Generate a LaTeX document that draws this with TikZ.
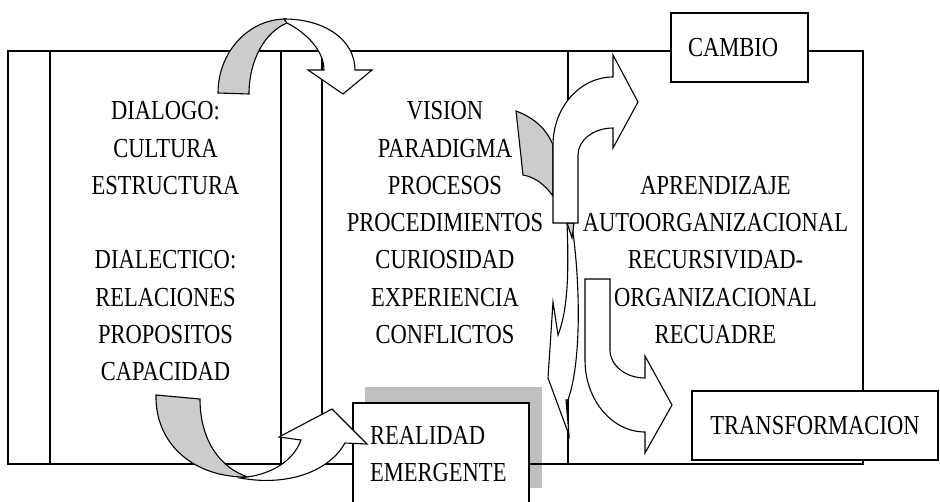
\documentclass[tikz,border=0pt]{standalone}
\usepackage{fontspec}
\setmainfont{Liberation Serif}[FakeStretch=0.82]
\usetikzlibrary{positioning}

\begin{document}
\begin{tikzpicture}[x=1pt,y=-1pt,
	txt/.style={font=\fontsize{27.5}{37.3}\selectfont,inner sep=0pt,anchor=base},
	caja/.style={draw,fill=white,line width=1.6pt,font=\fontsize{27.5}{37.3}\selectfont,inner sep=0pt},
	marco/.style={line width=2.2pt},
	flecha/.style={draw,fill=white,line width=1.1pt,line join=miter},
	fondo/.style={draw,fill=black!20,line width=1.1pt,line join=miter}]
	\useasboundingbox (0,0) rectangle (940,501);
	\clip (0,0) rectangle (940,501);
	
	% sombra y marco
	\fill[black!25] (365,387) rectangle (542,488);
	\draw[marco] (8,51) rectangle (863,464);
	\foreach \x in {50,281,322,568}
		\draw[marco] (\x,51) -- (\x,464);
	
	% columnas
	\foreach \t/\k in {DIALOGO:/0,CULTURA/1,ESTRUCTURA/2,DIALECTICO:/4,RELACIONES/5,PROPOSITOS/6,CAPACIDAD/7}
		\node[txt] (izq\k) at (165.5,{119.7+\k*37.3}) {\t};
	\foreach \t [count=\k from 0] in {VISION,PARADIGMA,PROCESOS,PROCEDIMIENTOS,CURIOSIDAD,EXPERIENCIA,CONFLICTOS}
		\node[txt] (cen\k) at (445,{119.7+\k*37.3}) {\t};
	\foreach \t/\k in {APRENDIZAJE/2,AUTOORGANIZACIONAL/3,RECURSIVIDAD-/4,ORGANIZACIONAL/5,RECUADRE/6}
		\node[txt] (der\k) at (715.5,{119.7+\k*37.3}) {\t};
	
	% cajas
	\node[caja,minimum width=137pt,minimum height=69pt,text width=103pt,align=left] (cambio) at (739.5,47.5) {CAMBIO};
	\node[caja,minimum width=246pt,minimum height=69pt] (transf) at (815,425.5) {TRANSFORMACION};
	
	% flecha de arriba
	\path[fondo] (218,93) arc[start angle=180,end angle=270,x radius=68,y radius=74]
		-- (287,23) .. controls (265,32) and (249,60) .. (249,94) -- cycle;
	\path[flecha] (284,19) .. controls (325,19) and (355,40) .. (355,70) -- (372,70) -- (343,94) -- (308,70) -- (324,70)
		.. controls (324,50) and (305,32) .. (287,23) -- cycle;
	
	% flecha del centro
	\path[fondo] (516,111) .. controls (535,118) and (547,130) .. (553,145) -- (553,196)
		.. controls (545,185) and (535,177) .. (523,175) -- cycle;
	\path[flecha] (567,223) .. controls (569,270) and (568,310) .. (558,335) -- (553,302) -- (548,378) -- (569,435)
		-- (566,400) -- (568,400) .. controls (582,360) and (580,280) .. (572,225) -- cycle;
	\path[fondo] (567,223) -- (574,223) -- (572,238) -- cycle;
	\path[flecha] (553,223) -- (553,145) arc[start angle=180,end angle=270,x radius=60,y radius=68]
		-- (613,55) -- (638,102) -- (613,148) -- (613,128) arc[start angle=270,end angle=180,x radius=35,y radius=27]
		-- (578,223) -- cycle;
	\path[flecha] (585,279) -- (610,279) -- (610,350) arc[start angle=180,end angle=90,x radius=35,y radius=28]
		-- (645,356) -- (672,405) -- (645,453) -- (645,432) arc[start angle=90,end angle=180,x radius=60,y radius=72]
		-- cycle;
	
	% realidad emergente
	\node[caja,minimum width=176pt,minimum height=102pt,text width=142pt,align=left] (realidad) at (441,454) {REALIDAD\\EMERGENTE};
	
	% flecha de abajo
	\path[fondo] (156,395) -- (200,399) .. controls (200,440) and (220,468) .. (248,477)
		.. controls (195,478) and (155,445) .. (156,395) -- cycle;
	\path[flecha] (301,440) -- (279,437) -- (332,409) -- (367,444) -- (345,443)
		.. controls (330,470) and (290,487) .. (240,478) -- (247,477)
		.. controls (270,474) and (293,462) .. (301,440) -- cycle;
\end{tikzpicture}
\end{document}
